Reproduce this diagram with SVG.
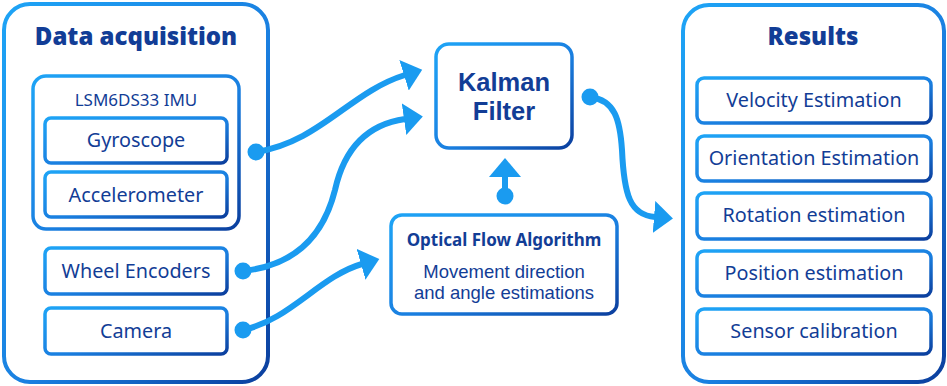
<svg xmlns="http://www.w3.org/2000/svg" width="947" height="386" viewBox="0 0 947 386">
<defs>
<linearGradient id="bd" x1="0" y1="0" x2="1" y2="1">
<stop offset="0" stop-color="#1ea4f6"/>
<stop offset="0.55" stop-color="#1a7fe0"/>
<stop offset="1" stop-color="#0b3f9e"/>
</linearGradient>
<marker id="arrow" markerUnits="userSpaceOnUse" viewBox="0 0 20 32" markerWidth="20" markerHeight="32" refX="1" refY="16" orient="auto">
<path d="M0,0 L19,16 L0,32 Z" fill="#1a9bf0"/>
</marker>
<marker id="dot" markerUnits="userSpaceOnUse" viewBox="-9 -9 18 18" markerWidth="18" markerHeight="18" refX="0" refY="0">
<circle r="8.5" fill="#1a9bf0"/>
</marker>
</defs>
<style>
.outer{fill:#fff;stroke:url(#bd);stroke-width:4}
.box{fill:#fff;stroke:url(#bd);stroke-width:3.5}
.t{font-family:"Noto Sans","DejaVu Sans",sans-serif;fill:#123d96;text-anchor:middle}
.lbl{font-size:19.8px}
.title{font-size:24px;font-weight:900}
.kal{font-family:"Liberation Sans",Arial,sans-serif;font-size:25.5px;font-weight:bold}
.sub{font-size:17px;font-weight:bold}
.desc{font-family:"Liberation Sans",Arial,sans-serif;font-size:18.5px}
.con{fill:none;stroke:#1a9bf0;stroke-width:6;marker-start:url(#dot);marker-end:url(#arrow)}
</style>
<rect width="947" height="386" fill="#fff"/>
<g id="data-acquisition">
<rect class="outer" x="4" y="4" width="264" height="378" rx="26"/>
<text class="t title" x="136" y="45">Data acquisition</text>
</g>
<g id="imu">
<rect class="box" x="33" y="76" width="206" height="153" rx="13" stroke-width="4.5"/>
<text class="t" x="136" y="106" font-size="17">LSM6DS33 IMU</text>
</g>
<g id="gyroscope">
<rect class="box" x="45" y="118" width="182" height="45" rx="6" stroke-width="3"/>
<text class="t lbl" x="136" y="147">Gyroscope</text>
</g>
<g id="accelerometer">
<rect class="box" x="45" y="172" width="182" height="45" rx="6" stroke-width="3"/>
<text class="t lbl" x="136" y="202">Accelerometer</text>
</g>
<g id="wheel-encoders">
<rect class="box" x="45" y="248" width="182" height="46" rx="6" stroke-width="3"/>
<text class="t lbl" x="136" y="278">Wheel Encoders</text>
</g>
<g id="camera">
<rect class="box" x="45" y="308" width="182" height="46" rx="6" stroke-width="3"/>
<text class="t lbl" x="136" y="338">Camera</text>
</g>
<g id="kalman">
<rect class="box" x="436" y="44" width="136" height="104" rx="13"/>
<text class="t kal" x="504" y="91"><tspan x="504">Kalman</tspan><tspan x="504" dy="29">Filter</tspan></text>
</g>
<g id="optical-flow">
<rect class="box" x="391" y="215" width="226" height="99" rx="11"/>
<text class="t sub" x="504" y="246">Optical Flow Algorithm</text>
<text class="t desc" x="504" y="278"><tspan x="504">Movement direction</tspan><tspan x="504" dy="21">and angle estimations</tspan></text>
</g>
<g id="results">
<rect class="outer" x="683" y="5" width="261" height="377" rx="26"/>
<text class="t title" x="813" y="45">Results</text>
</g>
<g id="velocity">
<rect class="box" x="697" y="78" width="234" height="45" rx="7" stroke-width="3"/>
<text class="t lbl" x="814" y="107">Velocity Estimation</text>
</g>
<g id="orientation">
<rect class="box" x="697" y="136" width="234" height="45" rx="7" stroke-width="3"/>
<text class="t lbl" x="814" y="165">Orientation Estimation</text>
</g>
<g id="rotation">
<rect class="box" x="697" y="193" width="234" height="46" rx="7" stroke-width="3"/>
<text class="t lbl" x="814" y="222">Rotation estimation</text>
</g>
<g id="position">
<rect class="box" x="697" y="251" width="234" height="45" rx="7" stroke-width="3"/>
<text class="t lbl" x="814" y="280">Position estimation</text>
</g>
<g id="calibration">
<rect class="box" x="697" y="309" width="234" height="45" rx="7" stroke-width="3"/>
<text class="t lbl" x="814" y="338">Sensor calibration</text>
</g>
<g id="connectors">
<path class="con" d="M256,152 C320,142 350,92 405,75"/>
<path class="con" d="M243,271 C300,265 325,230 335,190 C345,145 370,124 405,119"/>
<path class="con" d="M243,330 C290,320 320,276 362,264"/>
<path class="con" d="M505,196 L505,176"/>
<path class="con" d="M590,97 C615,100 620,120 622,150 C624,195 630,215 655,217"/>
</g>
</svg>
